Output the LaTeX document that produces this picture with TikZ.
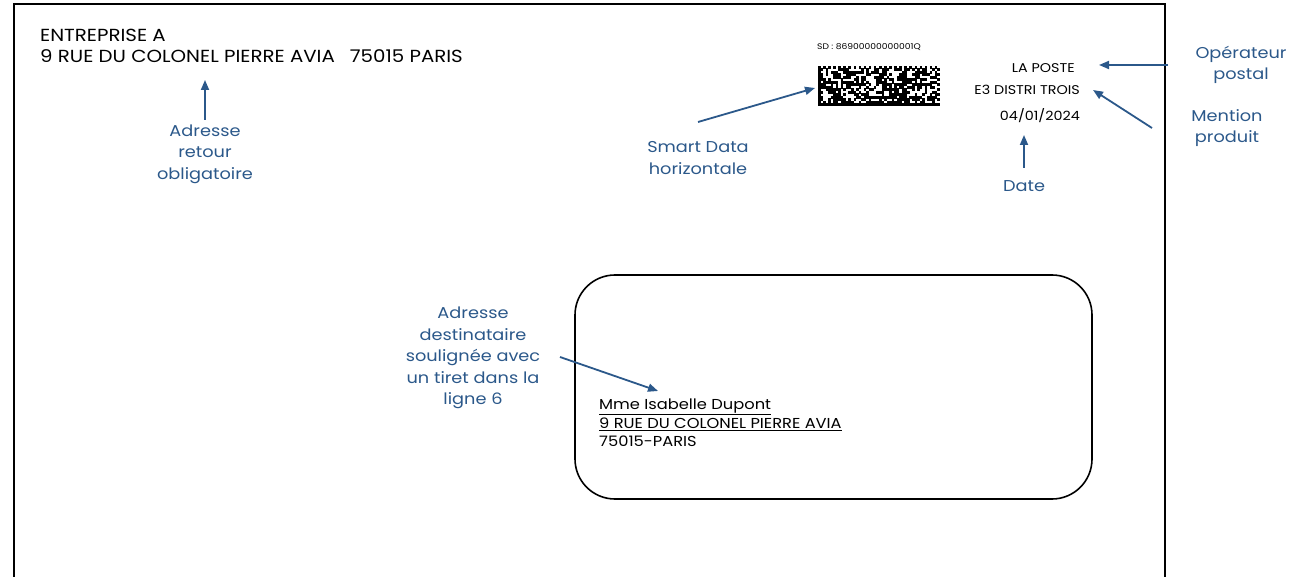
\documentclass[tikz,border=0pt]{standalone}
\usepackage{fontspec}
\setmainfont[FakeStretch=1.13]{Poppins}
\usetikzlibrary{arrows.meta,positioning}
\definecolor{bleu}{RGB}{43,88,138}
\tikzstyle{fleche}=[
	-{Triangle[length=10pt,width=8pt]},
	draw=bleu,
	line width=1.8pt
]
\tikzstyle{legende}=[
	text=bleu,
	align=center,
	inner sep=0pt,
	font=\fontsize{15.7}{21.5}\selectfont
]
\tikzstyle{entete}=[
	anchor=west,
	inner sep=0pt,
	font=\fontsize{17.5}{21}\selectfont
]
\tikzstyle{poste}=[
	anchor=east,
	inner sep=0pt,
	font=\fontsize{12.7}{17}\selectfont
]
\tikzstyle{dest}=[
	anchor=west,
	inner sep=0pt,
	font=\fontsize{14.4}{17}\selectfont
]

\begin{document}
\begin{tikzpicture}[x=1pt, y=-1pt]
\useasboundingbox (0,0) rectangle (1298,577);

% enveloppe
\draw[line width=1.5pt] (14,577) -- (14,4) -- (1165,4) -- (1165,577);

% expediteur
\node[entete] (exp1) at (40,35) {ENTREPRISE A};
\node[entete] (exp2) at (40,56) {9 RUE DU COLONEL PIERRE AVIA\hspace{15pt}75015 PARIS};

% smart data
\node[inner sep=0pt, font=\fontsize{8.1}{9}\selectfont, anchor=west] (sdtxt) at (817,47) {SD : 86900000000001Q};
\node[minimum width=122pt, minimum height=40pt, inner sep=0pt] (sd) at (879,86) {};
\pgfmathsetseed{7}
\begin{scope}[shift={(818,66)}]
\foreach \i in {0,...,47} {
    \foreach \j in {0,...,15} {
        \pgfmathtruncatemacro\bit{rnd<0.55}
        \ifnum\i=0 \def\bit{1}\fi
        \ifnum\j=15 \def\bit{1}\fi
        \ifnum\j=0 \pgfmathtruncatemacro\bit{mod(\i+1,2)}\fi
        \ifnum\i=47 \pgfmathtruncatemacro\bit{mod(\j,2)}\fi
        \ifnum\bit=1
            \fill (\i*2.54,\j*2.5) rectangle ++(2.6,2.56);
        \fi
    }
}
\end{scope}

% la poste
\node[poste] (poste) at (1075,68) {LA POSTE};
\node[poste] (distri) at (1080,90) {E3 DISTRI TROIS};
\node[poste] (ddate) at (1080,116) {04/01/2024};

% fenetre
\node[draw, line width=1.6pt, rounded corners=40pt, minimum width=517pt, minimum height=224pt] (fenetre) at (833.5,387) {};
\node[dest] (d1) at (599,407) {\underline{Mme Isabelle Dupont}};
\node[dest] (d2) at (599,424) {\underline{9 RUE DU COLONEL PIERRE AVIA}};
\node[dest] (d3) at (599,441) {75015-PARIS};

% legendes
\node[legende] (lretour) at (205,154) {Adresse\\retour\\obligatoire};
\node[legende] (lsmart) at (698,158) {Smart Data\\horizontale};
\node[legende] (ldate) at (1024,186) {Date};
\node[legende] (loper) at (1241,65) {Opérateur\\postal};
\node[legende] (lmention) at (1227,128) {Mention\\produit};
\node[legende] (ldest) at (473,358) {Adresse\\destinataire\\soulignée avec\\un tiret dans la\\ligne 6};

% points des fleches
\coordinate (tretour) at (205,120);
\coordinate (hretour) at (205,80);
\coordinate (tsmart) at (698,122);
\coordinate (hsmart) at (815,88);
\coordinate (tdate) at (1024,168);
\coordinate (hdate) at (1024,135);
\coordinate (toper) at (1168,65);
\coordinate (hoper) at (1099,65);
\coordinate (tmention) at (1152,128);
\coordinate (hmention) at (1093,90);
\coordinate (tdest) at (560,357);
\coordinate (hdest) at (658,391);

\draw[fleche] (tretour) -- (hretour);
\draw[fleche] (tsmart) -- (hsmart);
\draw[fleche] (tdate) -- (hdate);
\draw[fleche] (toper) -- (hoper);
\draw[fleche] (tmention) -- (hmention);
\draw[fleche] (tdest) -- (hdest);

\end{tikzpicture}
\end{document}
